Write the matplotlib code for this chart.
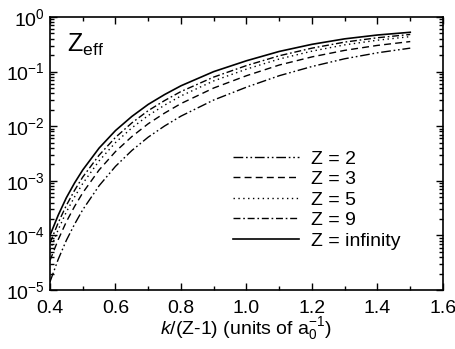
import numpy as np
import matplotlib
matplotlib.use('Agg')
from matplotlib import pyplot as plt
from matplotlib.ticker import MultipleLocator, LogLocator, NullFormatter

plt.rcParams['font.family'] = ['Liberation Sans', 'DejaVu Sans']
plt.rcParams['mathtext.fontset'] = 'custom'
plt.rcParams['mathtext.rm'] = 'Liberation Sans'
plt.rcParams['mathtext.it'] = 'Liberation Sans:italic'
plt.rcParams['mathtext.bf'] = 'Liberation Sans:bold'

# k/(Z-1) values
k = [0.400, 0.425, 0.450, 0.475, 0.50, 0.55, 0.60, 0.65, 0.70, 0.75, 0.80,
     0.90, 1.00, 1.10, 1.20, 1.30, 1.40, 1.50]

z2 = [1.41e-5, 3.63e-5, 8.13e-5, 1.60e-4, 2.95e-4, 8.13e-4, 1.84e-3, 3.59e-3, 6.31e-3,
      1.01e-2, 1.53e-2, 3.02e-2, 5.19e-2, 8.41e-2, 0.124, 0.172, 0.221, 0.269]
z3 = [3.47e-5, 8.32e-5, 1.78e-4, 3.39e-4, 6.03e-4, 1.58e-3, 3.43e-3, 6.46e-3, 1.11e-2,
      1.74e-2, 2.60e-2, 5.01e-2, 8.41e-2, 0.132, 0.186, 0.245, 0.302, 0.355]
z5 = [5.37e-5, 1.27e-4, 2.69e-4, 5.07e-4, 8.91e-4, 2.32e-3, 5.01e-3, 9.33e-3, 1.57e-2,
      2.43e-2, 3.59e-2, 6.76e-2, 0.111, 0.170, 0.237, 0.309, 0.376, 0.437]
z9 = [7.24e-5, 1.70e-4, 3.55e-4, 6.68e-4, 1.17e-3, 2.95e-3, 6.24e-3, 1.15e-2, 1.93e-2,
      2.95e-2, 4.32e-2, 7.94e-2, 0.129, 0.195, 0.269, 0.347, 0.417, 0.479]
zinf = [1.00e-4, 2.34e-4, 4.90e-4, 9.12e-4, 1.58e-3, 3.98e-3, 8.32e-3, 1.51e-2, 2.51e-2,
        3.80e-2, 5.50e-2, 0.100, 0.158, 0.234, 0.316, 0.398, 0.468, 0.525]

labels = ['Z = 2', 'Z = 3', 'Z = 5', 'Z = 9', 'Z = infinity']
styles = [(0, (7, 2, 1.2, 2, 1.2, 2)), (0, (5, 3)), (0, (1, 2.5)),
          (0, (5, 2, 1.2, 2)), '-']
widths = [1.0, 1.0, 1.0, 1.0, 1.2]

fig = plt.figure(figsize=(4.56, 3.49), dpi=100)
ax = fig.add_axes([0.1096, 0.169, 0.8619, 0.7823])

for y, lab, ls, lw in zip([z2, z3, z5, z9, zinf], labels, styles, widths):
    ax.plot(k, y, color='black', lw=lw, linestyle=ls, label=lab)

ax.set_yscale('log')
ax.set_xlim(0.4, 1.6)
ax.set_ylim(1e-5, 1)

ax.xaxis.set_major_locator(MultipleLocator(0.2))
ax.xaxis.set_minor_locator(MultipleLocator(0.1))
ax.yaxis.set_major_locator(LogLocator(base=10, numticks=10))
ax.yaxis.set_minor_locator(LogLocator(base=10, subs=np.arange(2, 10), numticks=20))
ax.yaxis.set_minor_formatter(NullFormatter())

ax.tick_params(which='both', direction='in', top=True, right=True, labelsize=14, width=1.0)
ax.tick_params(which='major', length=5)
ax.tick_params(which='minor', length=3)
ax.tick_params(axis='x', pad=7)
for sp in ax.spines.values():
    sp.set_linewidth(1.2)

ax.set_xlabel(r'$\mathit{k}$/(Z-1) (units of a$_0^{-1}$)', fontsize=14, labelpad=-1)

ax.text(0.043, 0.872, r'Z$_{\mathrm{eff}}$', transform=ax.transAxes, fontsize=18,
        va='baseline', ha='left')

ax.legend(frameon=False, fontsize=14, loc='center left', bbox_to_anchor=(0.466, 0.33),
          borderpad=0, borderaxespad=0, handlelength=3.4, handletextpad=0.6,
          labelspacing=0.15)

fig.savefig('out.png', dpi=100)
